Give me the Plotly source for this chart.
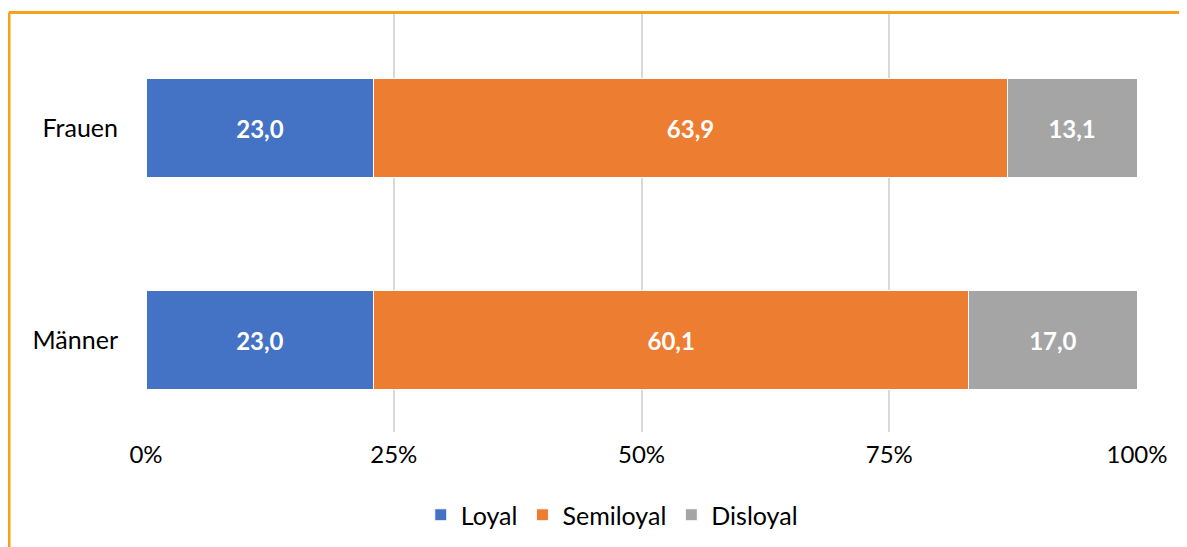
import plotly.graph_objects as go

# Daten
gruppen = ["Männer", "Frauen"]
loyal = [23.0, 23.0]
semiloyal = [60.1, 63.9]
disloyal = [17.0, 13.1]

serien = [
    ("Loyal", loyal, "#4472C4"),
    ("Semiloyal", semiloyal, "#ED7D31"),
    ("Disloyal", disloyal, "#A5A5A5"),
]

# Seite hat 8px Rand -> Figur etwas kleiner, Koordinaten um 8px verschoben
OFF = 8
W, H = 1187 - OFF, 547 - OFF
L, R, T, B = 146 - OFF, 50, 14 - OFF, 115
pw, ph = W - L - R, H - T - B

fig = go.Figure()
for name, vals, color in serien:
    fig.add_trace(go.Bar(
        y=gruppen, x=vals, name=name, orientation="h",
        marker=dict(color=color, line=dict(color="white", width=1)),
        text=[f"{v:.1f}".replace(".", ",") for v in vals],
        textposition="inside", insidetextanchor="middle",
        textfont=dict(color="white", size=24, family="Lato", weight="bold"),
        hoverinfo="skip",
    ))

# orangefarbener Rahmen (oben und links sichtbar)
def px_x(p):
    return (p - OFF - L) / pw

def px_y(p):
    return (H - B - (p - OFF)) / ph

fig.add_shape(type="line", xref="paper", yref="paper",
              x0=px_x(9), x1=px_x(1200), y0=px_y(12.5), y1=px_y(12.5),
              line=dict(color="#F5A21A", width=3))
fig.add_shape(type="line", xref="paper", yref="paper",
              x0=px_x(9), x1=px_x(9), y0=px_y(12.5), y1=px_y(560),
              line=dict(color="#F5A21A", width=3))

fig.update_layout(
    width=W, height=H,
    barmode="stack", barnorm="percent", bargap=0.533,
    plot_bgcolor="white", paper_bgcolor="white",
    font=dict(family="Lato", size=24, color="#000000"),
    margin=dict(l=L, r=R, t=T, b=B),
    showlegend=True,
    legend=dict(orientation="h", x=0.47, xanchor="center", y=px_y(515), yanchor="middle",
                font=dict(size=25), traceorder="normal", itemwidth=30),
    xaxis=dict(range=[0, 100], tickvals=[0, 25, 50, 75, 100],
               ticktext=["0%", "25%", "50%", "75%", "100%"],
               showgrid=True, gridcolor="#D9D9D9", gridwidth=2,
               zeroline=False, showline=False, ticks="", ticklabelstandoff=6),
    yaxis=dict(range=[-0.432, 1.540], showgrid=False, zeroline=False,
               showline=False, ticks="", ticklabelstandoff=27,
               tickfont=dict(size=25)),
)

fig.write_html("out.html")
